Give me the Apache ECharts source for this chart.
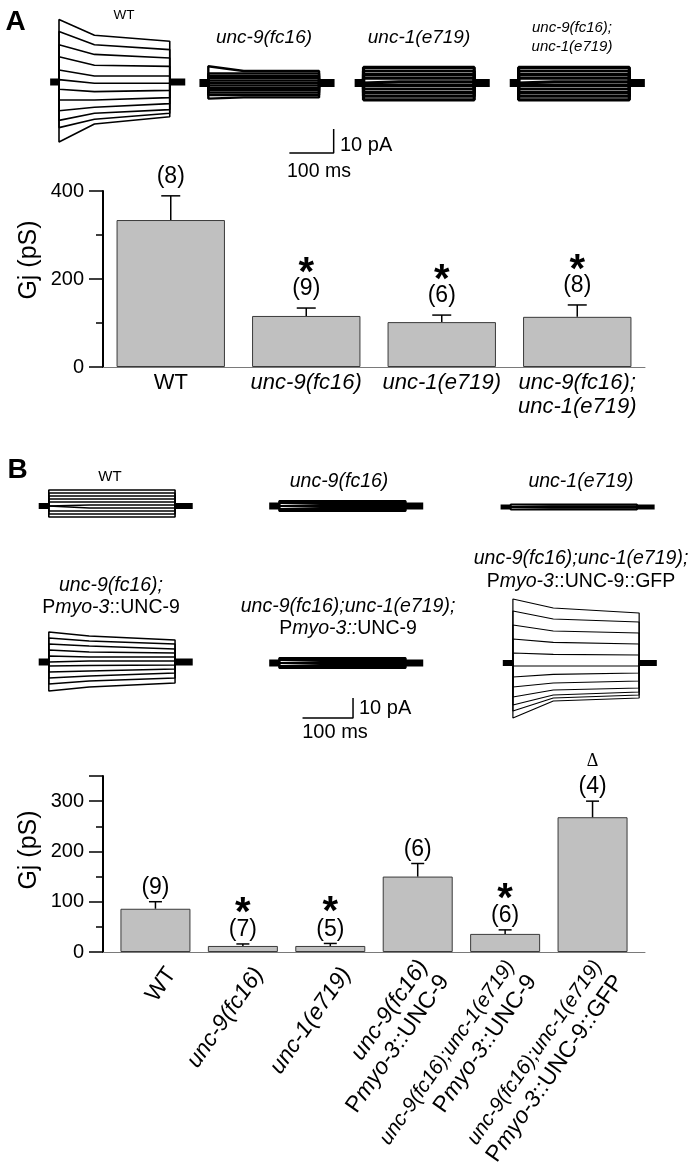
<!DOCTYPE html>
<html>
<head>
<meta charset="utf-8">
<script src="https://cdn.jsdelivr.net/npm/echarts@6/dist/echarts.min.js"></script>
<style>
html, body { margin: 0; padding: 0; background: #fff; }
#fig { width: 694px; height: 1165px; }
</style>
</head>
<body>
<div id="fig"></div>
<script>
const FONT = '"Liberation Sans", Arial, sans-serif';

// ---- panel A bars: junctional conductance (pS) ----
const catsA = ['WT', 'unc-9(fc16)', 'unc-1(e719)', 'unc-9(fc16);unc-1(e719)'];
const gjMeanA = [334, 116, 102, 114];
const gjSemA = [55, 18, 16, 27];
const nA = ['(8)', '(9)', '(6)', '(8)'];
const markA = ['', '*', '*', '*'];

// ---- panel B bars ----
const catsB = ['WT', 'unc-9(fc16)', 'unc-1(e719)', 'unc-9(fc16) Pmyo-3::UNC-9',
  'unc-9(fc16);unc-1(e719) Pmyo-3::UNC-9', 'unc-9(fc16);unc-1(e719) Pmyo-3::UNC-9::GFP'];
const gjMeanB = [86, 12, 12, 150, 36, 268];
const gjSemB = [14, 4, 5, 26, 8, 32];
const nB = ['(9)', '(7)', '(5)', '(6)', '(6)', '(4)'];
const markB = ['', '*', '*', '', '*', '\u0394'];

// ---- current traces: [pA at step onset, at 80 ms, at step end] ----
const stepT = [0, 80, 250];          // ms
const winT = [-20, 285];             // ms shown around the step
const wtA = [[26, 19.5, 17], [21, 15.5, 13.5], [15.5, 11.5, 10], [10.5, 7, 6.5], [5, 2.5, 2.5], [1, -0.5, -0.5],
  [-3, -4, -3.5], [-7.5, -7.5, -6.5], [-12, -10.5, -9], [-16, -13, -11.5], [-19, -15.5, -13], [-25, -17.5, -14.5]];
const unc9A = [[7, 5, 5], [4, 4, 4], [3, 3, 3], [2, 2, 2], [1, 1, 1], [0, 0, 0], [-1, -1, -1],
  [-2, -2, -2], [-3, -3, -3], [-4, -4, -4], [-5, -5, -5], [-6.5, -6, -6]];
const unc1A = [[6.5, 6.5, 6.5], [5, 5, 5], [3.5, 3.5, 3.5], [2, 2, 2], [0.5, 0.5, 0.5], [-1, -1, -1],
  [-2.5, -2.5, -2.5], [-4, -4, -4], [-5.5, -5.5, -5.5], [-7, -7, -7]];
const dblA = [[6.5, 6.5, 6.5], [5, 5, 5], [3.5, 3.5, 3.5], [2, 2, 2], [0.5, 0.5, 0.5], [-1, -1, -1],
  [-2.5, -2.5, -2.5], [-4, -4, -4], [-5.5, -5.5, -5.5], [-7, -7, -7]];
const wtB = [[8, 8, 8], [6.5, 6.5, 6.5], [5, 5, 5], [3.5, 3.5, 3.5], [2, 2, 2], [0.5, 0.5, 0.5],
  [-1, -1, -1], [-2.5, -2.5, -2.5], [-4, -4, -4], [-5.5, -5.5, -5.5]];
const unc9B = [[2.5, 2.5, 2.5], [1.5, 1.5, 1.5], [0.5, 0.5, 0.5], [-0.5, -0.5, -0.5], [-1.5, -1.5, -1.5], [-2.5, -2.5, -2.5]];
const unc1B = [[1.2, 1.2, 1.2], [0.4, 0.4, 0.4], [-0.4, -0.4, -0.4], [-1.2, -1.2, -1.2]];
const rescueB = [[15, 13, 11], [12, 10.5, 9], [9, 8, 6.5], [6, 5, 4.5], [3, 2.5, 2.5], [0.5, 0.5, 0.5],
  [-2, -1.8, -1.5], [-5, -4.5, -3.5], [-8, -7, -5.5], [-11, -9.5, -8], [-14.5, -12.5, -10.5]];
const dblRescueB = [[2.5, 2.5, 2.5], [1.5, 1.5, 1.5], [0.5, 0.5, 0.5], [-0.5, -0.5, -0.5], [-1.5, -1.5, -1.5], [-2.5, -2.5, -2.5]];
const gfpB = [[32, 27.5, 25], [26, 22, 20.5], [19, 16, 15], [12, 10.3, 9.5], [5, 4.3, 4], [-1.5, -1.5, -1.5],
  [-7, -5.7, -5], [-12, -10, -9], [-17, -13.5, -12.5], [-21, -16, -14.5], [-24, -17.5, -16], [-27.5, -19, -17.5]];

const scaleMs = 100;
const scalePa = 10;

// [traces, step-onset x px, baseline y px, px per ms, px per pA, half range pA, trace width, baseline width]
const traceLayout = [
  [wtA, 59, 82, 0.443, 2.4, 32, 1.6, 7],
  [unc9A, 208.3, 83, 0.443, 2.4, 32, 2.4, 8],
  [unc1A, 363.5, 83, 0.443, 2.4, 32, 3.2, 8],
  [dblA, 518.6, 83, 0.443, 2.4, 32, 3.2, 8],
  [wtB, 48.8, 506, 0.505, 2, 40, 1.6, 6],
  [unc9B, 279.3, 506, 0.505, 2, 40, 2.2, 7],
  [unc1B, 510.7, 507, 0.505, 2, 40, 2, 5],
  [rescueB, 48.8, 662, 0.505, 2, 40, 1.5, 7],
  [dblRescueB, 279.3, 663, 0.505, 2, 40, 2.2, 7],
  [gfpB, 512.9, 663, 0.505, 2, 40, 1.2, 6]
];

const grid = [], xAxis = [], yAxis = [], series = [];

traceLayout.forEach(function (L, g) {
  const pxMs = L[3], pxPa = L[4], half = L[5];
  grid.push({
    left: L[1] + winT[0] * pxMs, top: L[2] - half * pxPa,
    width: (winT[1] - winT[0]) * pxMs, height: 2 * half * pxPa
  });
  xAxis.push({ gridIndex: g, type: 'value', min: winT[0], max: winT[1], show: false });
  yAxis.push({ gridIndex: g, type: 'value', min: -half, max: half, show: false });
  [[[winT[0], 0], [stepT[0], 0]], [[stepT[2], 0], [winT[1], 0]]].forEach(function (d) {
    series.push({ type: 'line', xAxisIndex: g, yAxisIndex: g, data: d, symbol: 'none',
      lineStyle: { color: '#000', width: L[7] }, silent: true, animation: false });
  });
  L[0].forEach(function (tr) {
    series.push({
      type: 'line', xAxisIndex: g, yAxisIndex: g, symbol: 'none', silent: true, animation: false,
      lineStyle: { color: '#000', width: L[6] },
      data: [[stepT[0], 0], [stepT[0], tr[0]], [stepT[1], tr[1]], [stepT[2], tr[2]], [stepT[2], 0]]
    });
  });
});

// scale bars (100 ms / 10 pA) drawn inside trace grids 1 and 8
series.push({ type: 'line', xAxisIndex: 1, yAxisIndex: 1, symbol: 'none', silent: true, animation: false,
  lineStyle: { color: '#000', width: 1.5 },
  data: [[183, -29.2], [183 + scaleMs, -29.2], [183 + scaleMs, -29.2 + scalePa]] });
series.push({ type: 'line', xAxisIndex: 8, yAxisIndex: 8, symbol: 'none', silent: true, animation: false,
  lineStyle: { color: '#000', width: 1.5 },
  data: [[46, -27.5], [46 + scaleMs, -27.5], [46 + scaleMs, -27.5 + scalePa]] });

// ---- bar grids ----
const gA = grid.length;
grid.push({ left: 103, top: 191, width: 542, height: 176 });
const gB = grid.length;
grid.push({ left: 103, top: 776, width: 542, height: 176 });

const yAxisStyle = {
  axisLine: { show: true, onZero: false, lineStyle: { color: '#000', width: 2 } },
  axisTick: { show: true, length: 14, lineStyle: { color: '#000', width: 1.5 } },
  minorTick: { show: true, splitNumber: 2, length: 7, lineStyle: { color: '#000', width: 1.5 } },
  splitLine: { show: false },
  axisLabel: { fontFamily: FONT, fontSize: 20, color: '#000', margin: 19 }
};
const xLine = { show: true, onZero: false, lineStyle: { color: '#7a7a7a', width: 1 } };

xAxis.push({ gridIndex: gA, type: 'category', data: catsA, axisLine: xLine,
  axisTick: { show: false }, axisLabel: { show: false } });
yAxis.push(Object.assign({ gridIndex: gA, type: 'value', min: 0, max: 400, interval: 200 }, yAxisStyle));
// B bars sit on a value axis so the bar centres can match the figure's spacing
xAxis.push({ gridIndex: gB, type: 'value', min: -0.6, max: 5.6, axisLine: xLine,
  axisTick: { show: false }, axisLabel: { show: false }, splitLine: { show: false } });
yAxis.push(Object.assign({ gridIndex: gB, type: 'value', min: 0, max: 350, interval: 100 }, yAxisStyle, {
  axisLabel: { fontFamily: FONT, fontSize: 20, color: '#000', margin: 19,
    formatter: function (v) { return v % 100 === 0 ? String(v) : ''; } }
}));

const barStyle = { color: '#c0c0c0', borderColor: '#3a3a3a', borderWidth: 1 };
series.push({ type: 'bar', xAxisIndex: gA, yAxisIndex: gA, data: gjMeanA, barCategoryGap: '20%',
  itemStyle: barStyle, silent: true, animation: false });
series.push({ type: 'bar', xAxisIndex: gB, yAxisIndex: gB, barWidth: 70,
  data: gjMeanB.map(function (v, i) { return [i, v]; }),
  itemStyle: barStyle, silent: true, animation: false });

function errRender(nLab, marks, capW, nGap, markGap) {
  return function (params, api) {
    const i = params.dataIndex;
    const m = api.value(1), e = api.value(2);
    const p0 = api.coord([api.value(0), m]);
    const p1 = api.coord([api.value(0), m + e]);
    const st = { stroke: '#000', lineWidth: 1.5 };
    const kids = [
      { type: 'line', shape: { x1: p0[0], y1: p0[1], x2: p1[0], y2: p1[1] }, style: st },
      { type: 'line', shape: { x1: p1[0] - capW / 2, y1: p1[1], x2: p1[0] + capW / 2, y2: p1[1] }, style: st },
      { type: 'text', x: p1[0], y: p1[1] - nGap,
        style: { text: nLab[i], font: '23px ' + FONT, fill: '#000', align: 'center', verticalAlign: 'middle' } }
    ];
    if (marks[i] === '*') {
      kids.push({ type: 'text', x: p1[0], y: p1[1] - nGap - markGap + 10,
        style: { text: '*', font: 'bold 40px ' + FONT, fill: '#000', align: 'center', verticalAlign: 'middle' } });
    } else if (marks[i]) {
      kids.push({ type: 'text', x: p1[0], y: p1[1] - nGap - markGap,
        style: { text: marks[i], font: '18px "Liberation Serif", serif', fill: '#000', align: 'center', verticalAlign: 'middle' } });
    }
    return { type: 'group', children: kids };
  };
}
series.push({ type: 'custom', xAxisIndex: gA, yAxisIndex: gA, silent: true, animation: false, z: 5,
  renderItem: errRender(nA, markA, 19, 19, 25),
  data: gjMeanA.map(function (v, i) { return [i, v, gjSemA[i]]; }) });
series.push({ type: 'custom', xAxisIndex: gB, yAxisIndex: gB, silent: true, animation: false, z: 5,
  renderItem: errRender(nB, markB, 13, 14, 26),
  data: gjMeanB.map(function (v, i) { return [i, v, gjSemB[i]]; }) });

// ---- category labels under the bars ----
function richSet(size, small) {
  return {
    n: { fontFamily: FONT, fontSize: size, fill: '#000' },
    i: { fontFamily: FONT, fontSize: size, fontStyle: 'italic', fill: '#000' },
    s: { fontFamily: FONT, fontSize: small, fontStyle: 'italic', fill: '#000' }
  };
}
function labelA(c) {
  if (c === 'WT') return '{n|WT}';
  const p = c.split(';');
  return p.map(function (s, k) { return '{i|' + s + (k < p.length - 1 ? ';' : '') + '}'; }).join('\n');
}
function labelB(c) {
  if (c === 'WT') return '{n|WT}';
  const parts = c.split(' ');
  const first = parts[0].indexOf(';') >= 0 ? '{s|' + parts[0] + '}' : '{i|' + parts[0] + '}';
  if (parts.length === 1) return first;
  return first + '\n{n|P}{i|myo-3}{n|' + parts[1].replace('Pmyo-3', '') + '}';
}
series.push({ type: 'custom', xAxisIndex: gA, yAxisIndex: gA, silent: true, animation: false, clip: false,
  data: catsA.map(function (c, i) { return [i, 0]; }),
  renderItem: function (params, api) {
    const p = api.coord([api.value(0), 0]);
    return { type: 'text', x: p[0], y: p[1] + 4,
      style: { text: labelA(catsA[params.dataIndex]), rich: richSet(22, 22), lineHeight: 24,
        font: '22px ' + FONT, align: 'center', verticalAlign: 'top', fill: '#000' } };
  } });
series.push({ type: 'custom', xAxisIndex: gB, yAxisIndex: gB, silent: true, animation: false, clip: false,
  data: catsB.map(function (c, i) { return [i, 0]; }),
  renderItem: function (params, api) {
    const p = api.coord([api.value(0), 0]);
    return { type: 'text', x: p[0] + 16, y: p[1] + 18, rotation: 55 * Math.PI / 180,
      style: { text: labelB(catsB[params.dataIndex]), rich: richSet(23, 20.5), lineHeight: 26,
        font: '23px ' + FONT, align: 'right', verticalAlign: 'middle', fill: '#000' } };
  } });

// ---- texts ----
function txt(x, y, rich, size, extra) {
  return Object.assign({
    type: 'text', x: x, y: y, silent: true,
    style: {
      text: rich, align: 'center', verticalAlign: 'middle', fill: '#000',
      font: size + 'px ' + FONT,
      rich: {
        n: { fontSize: size, fontFamily: FONT, fill: '#000' },
        i: { fontSize: size, fontFamily: FONT, fontStyle: 'italic', fill: '#000' }
      }
    }
  }, extra || {});
}
function plain(x, y, s, font, align) {
  return { type: 'text', x: x, y: y, silent: true,
    style: { text: s, font: font, fill: '#000', align: align || 'center', verticalAlign: 'middle' } };
}
const graphic = [
  plain(15.5, 22, 'A', 'bold 28px ' + FONT),
  plain(17.5, 470, 'B', 'bold 28px ' + FONT),
  txt(124, 15, '{n|WT}', 13.5),
  txt(264, 38, '{i|unc-9(fc16)}', 19),
  txt(419, 38, '{i|unc-1(e719)}', 19),
  txt(572, 28, '{i|unc-9(fc16);}', 15),
  txt(572, 47, '{i|unc-1(e719)}', 15),
  plain(340, 145, '10 pA', '20px ' + FONT, 'left'),
  plain(319, 172, '100 ms', '19.5px ' + FONT),
  Object.assign(plain(29, 260, 'Gj (pS)', '25px ' + FONT), { rotation: Math.PI / 2 }),

  txt(110, 477, '{n|WT}', 15),
  txt(339, 482, '{i|unc-9(fc16)}', 19.5),
  txt(581, 482, '{i|unc-1(e719)}', 19.5),
  txt(111, 586, '{i|unc-9(fc16);}', 19.5),
  txt(111, 608, '{n|P}{i|myo-3}{n|::UNC-9}', 19.5),
  txt(348, 607, '{i|unc-9(fc16);unc-1(e719);}', 19.5),
  txt(348, 629, '{n|P}{i|myo-3::}{n|UNC-9}', 19.5),
  txt(581, 559, '{i|unc-9(fc16);unc-1(e719);}', 19.5),
  txt(581, 582, '{n|P}{i|myo-3}{n|::UNC-9::GFP}', 19.5),
  plain(359, 708, '10 pA', '20px ' + FONT, 'left'),
  plain(335, 732, '100 ms', '20px ' + FONT),
  Object.assign(plain(29, 850, 'Gj (pS)', '25px ' + FONT), { rotation: Math.PI / 2 })
];

const chart = echarts.init(document.getElementById('fig'), null, { renderer: 'canvas' });
chart.setOption({
  backgroundColor: '#fff',
  animation: false,
  grid: grid, xAxis: xAxis, yAxis: yAxis, series: series, graphic: graphic
});
</script>
</body>
</html>
